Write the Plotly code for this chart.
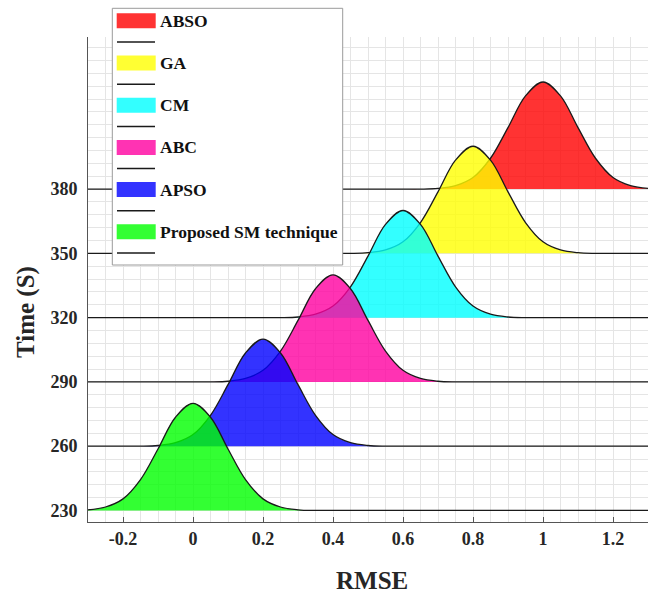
import plotly.graph_objects as go

# ---- data ----
series_names = ["ABSO", "GA", "CM", "ABC", "APSO", "Proposed SM technique"]
baselines = [380, 350, 320, 290, 260, 230]          # Time (S) offset of each ridge
fill_colors = ["rgba(255,0,0,0.8)", "rgba(255,255,0,0.8)", "rgba(0,255,255,0.8)",
               "rgba(255,0,160,0.8)", "rgba(0,0,255,0.8)", "rgba(0,255,0,0.8)"]

# RMSE sample positions (-0.3 ... 1.3 step 0.05)
rmse_x = [-0.30, -0.25, -0.20, -0.15, -0.10, -0.05, 0.00, 0.05, 0.10, 0.15, 0.20,
          0.25, 0.30, 0.35, 0.40, 0.45, 0.50, 0.55, 0.60, 0.65, 0.70, 0.75,
          0.80, 0.85, 0.90, 0.95, 1.00, 1.05, 1.10, 1.15, 1.20, 1.25, 1.30]

# ridge heights above each baseline, read at rmse_x
h_abso = [0, 0, 0, 0, 0, 0, 0, 0, 0, 0, 0, 0, 0, 0, 0, 0, 0, 0, 0, 0,
          0.3, 1.6, 5.4, 14.4, 28.7, 43.5, 50, 43.5, 28.7, 14.4, 5.4, 1.6, 0.3]
h_ga = [0, 0, 0, 0, 0, 0, 0, 0, 0, 0, 0, 0, 0, 0, 0, 0,
        0.3, 1.6, 5.4, 14.4, 28.7, 43.5, 50, 43.5, 28.7, 14.4, 5.4, 1.6, 0.3, 0, 0, 0, 0]
h_cm = [0, 0, 0, 0, 0, 0, 0, 0, 0, 0, 0, 0,
        0.3, 1.6, 5.4, 14.4, 28.7, 43.5, 50, 43.5, 28.7, 14.4, 5.4, 1.6, 0.3,
        0, 0, 0, 0, 0, 0, 0, 0]
h_abc = [0, 0, 0, 0, 0, 0, 0, 0,
         0.3, 1.6, 5.4, 14.4, 28.7, 43.5, 50, 43.5, 28.7, 14.4, 5.4, 1.6, 0.3,
         0, 0, 0, 0, 0, 0, 0, 0, 0, 0, 0, 0]
h_apso = [0, 0, 0, 0,
          0.3, 1.6, 5.4, 14.4, 28.7, 43.5, 50, 43.5, 28.7, 14.4, 5.4, 1.6, 0.3,
          0, 0, 0, 0, 0, 0, 0, 0, 0, 0, 0, 0, 0, 0, 0, 0]
h_sm = [0.3, 1.6, 5.4, 14.4, 28.7, 43.5, 50, 43.5, 28.7, 14.4, 5.4, 1.6, 0.3,
        0, 0, 0, 0, 0, 0, 0, 0, 0, 0, 0, 0, 0, 0, 0, 0, 0, 0, 0, 0]
heights = [h_abso, h_ga, h_cm, h_abc, h_apso, h_sm]

x_tickvals = [-0.2, 0, 0.2, 0.4, 0.6, 0.8, 1.0, 1.2]
x_ticktext = ["-0.2", "0", "0.2", "0.4", "0.6", "0.8", "1", "1.2"]
y_tickvals = [230, 260, 290, 320, 350, 380]
y_ticktext = ["230", "260", "290", "320", "350", "380"]

# ---- layout geometry (window pixels) ----
W, H = 650, 597
L, R, T, B = 88, 648, 37, 522        # plot area
FONT = "Liberation Serif, Times New Roman, serif"
TXT = "#262626"


def px(xp):
    return (xp - L) / (R - L)


def py(yp):
    return (B - yp) / (B - T)


fig = go.Figure()
for name, base, col, h in zip(series_names, baselines, fill_colors, heights):
    fig.add_trace(go.Scatter(x=[rmse_x[0], rmse_x[-1]], y=[base, base], mode="lines",
                             line=dict(width=0, color="rgba(0,0,0,0)"),
                             hoverinfo="skip", showlegend=False))
    fig.add_trace(go.Scatter(x=rmse_x, y=[base + v for v in h], mode="lines",
                             line=dict(color="#1a1a1a", width=1.3, shape="spline", smoothing=1.0),
                             fill="tonexty", fillcolor=col, name=name, showlegend=False))

grid_c = "#e5e5e5"
fig.update_xaxes(range=[-0.3, 1.3], tickmode="array", tickvals=x_tickvals, ticktext=x_ticktext,
                 showgrid=True, gridcolor=grid_c, gridwidth=1,
                 minor=dict(tickmode="linear", tick0=0, dtick=0.05, showgrid=True,
                            gridcolor=grid_c, gridwidth=1, ticks=""),
                 ticks="inside", ticklen=5, tickcolor="#555", tickwidth=1,
                 showline=True, linecolor="#555", linewidth=1, zeroline=False,
                 tickfont=dict(family=FONT, size=18, color=TXT, weight="bold"))
fig.update_yaxes(range=[224.6, 451], tickmode="array", tickvals=y_tickvals, ticktext=y_ticktext,
                 showgrid=True, gridcolor=grid_c, gridwidth=1,
                 minor=dict(tickmode="linear", tick0=230, dtick=6, showgrid=True,
                            gridcolor=grid_c, gridwidth=1, ticks=""),
                 ticks="", ticklabelstandoff=6,
                 showline=True, linecolor="#555", linewidth=1, zeroline=False,
                 tickfont=dict(family=FONT, size=18, color=TXT, weight="bold"))

shapes = []
annotations = []
# legend box
shapes.append(dict(type="rect", xref="paper", yref="paper", layer="above",
                   x0=px(112.3), x1=px(342.7), y0=py(265), y1=py(8.3),
                   fillcolor="white", line=dict(color="#9a9a9a", width=1)))
sw_centers = [20.8, 63.0, 105.2, 147.4, 189.6, 231.8]
for name, col, cy in zip(series_names, fill_colors, sw_centers):
    shapes.append(dict(type="rect", xref="paper", yref="paper", layer="above",
                       x0=px(116.7), x1=px(155.7), y0=py(cy + 7.5), y1=py(cy - 7.5),
                       fillcolor=col, line=dict(width=0)))
    shapes.append(dict(type="line", xref="paper", yref="paper", layer="above",
                       x0=px(117), x1=px(155), y0=py(cy + 21.2), y1=py(cy + 21.2),
                       line=dict(color="#1a1a1a", width=1.5)))
    annotations.append(dict(xref="paper", yref="paper", x=px(158), y=py(cy), text=name,
                            showarrow=False, xanchor="left", yanchor="middle",
                            font=dict(family=FONT, size=17.5, color="#111", weight="bold")))

annotations.append(dict(xref="paper", yref="paper", x=px(372), y=py(580), text="RMSE",
                        showarrow=False, xanchor="center", yanchor="middle",
                        font=dict(family=FONT, size=25, color=TXT, weight="bold")))
annotations.append(dict(xref="paper", yref="paper", x=px(26), y=py(312), text="Time (S)",
                        showarrow=False, xanchor="center", yanchor="middle", textangle=-90,
                        font=dict(family=FONT, size=25, color=TXT, weight="bold")))

fig.update_layout(width=W, height=H, autosize=False,
                  margin=dict(l=L, r=W - R, t=T, b=H - B, pad=0),
                  plot_bgcolor="white", paper_bgcolor="white",
                  showlegend=False, shapes=shapes, annotations=annotations,
                  hovermode=False)

fig.write_html("out.html", config={"displayModeBar": False, "staticPlot": True},
               post_script="document.body.style.margin='0';document.body.style.overflow='hidden';")
